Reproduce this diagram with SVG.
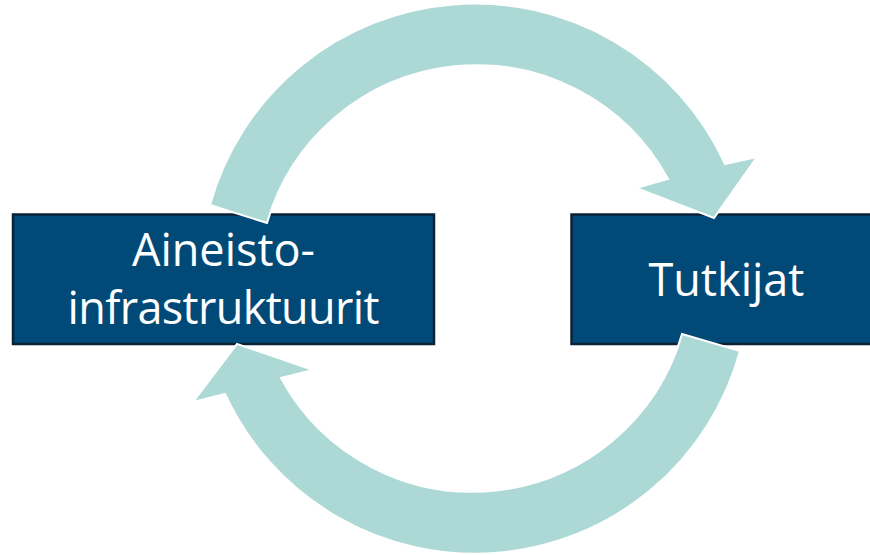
<svg xmlns="http://www.w3.org/2000/svg" width="870" height="555" viewBox="0 0 870 555">
  <style>
    .box { fill: #014a78; stroke: #0b2236; stroke-width: 2.5; }
    .lbl { font-family: "Open Sans", "Noto Sans", "Liberation Sans", sans-serif; font-size: 45px; fill: #ffffff; text-anchor: middle; }
    .arrow { fill: #acd9d5; stroke: #ffffff; stroke-width: 2; stroke-linejoin: miter; }
  </style>
  <rect width="870" height="555" fill="#ffffff"/>
  <g id="node-aineisto">
    <rect class="box" x="13" y="214.5" width="421" height="129.5"/>
    <text class="lbl" x="223.5" y="266">Aineisto-</text>
    <text class="lbl" x="223.5" y="324" textLength="312" lengthAdjust="spacing">infrastruktuurit</text>
  </g>
  <g id="node-tutkijat">
    <rect class="box" x="571.5" y="214.5" width="315" height="129.5"/>
    <text class="lbl" x="726.5" y="296">Tutkijat</text>
  </g>
  <g id="connectors">
    <path class="arrow" d="M 210,205 A 275 275 0 0 1 725,164 L 757,157 L 714,218 L 636,188 L 668,179 A 218 218 0 0 0 267,223 Z"/>
    <path class="arrow" d="M 740,351 A 275 275 0 0 1 225,394 L 193,402 L 237,344 L 313,370 L 281,378 A 218 218 0 0 0 682,334 Z"/>
  </g>
</svg>
